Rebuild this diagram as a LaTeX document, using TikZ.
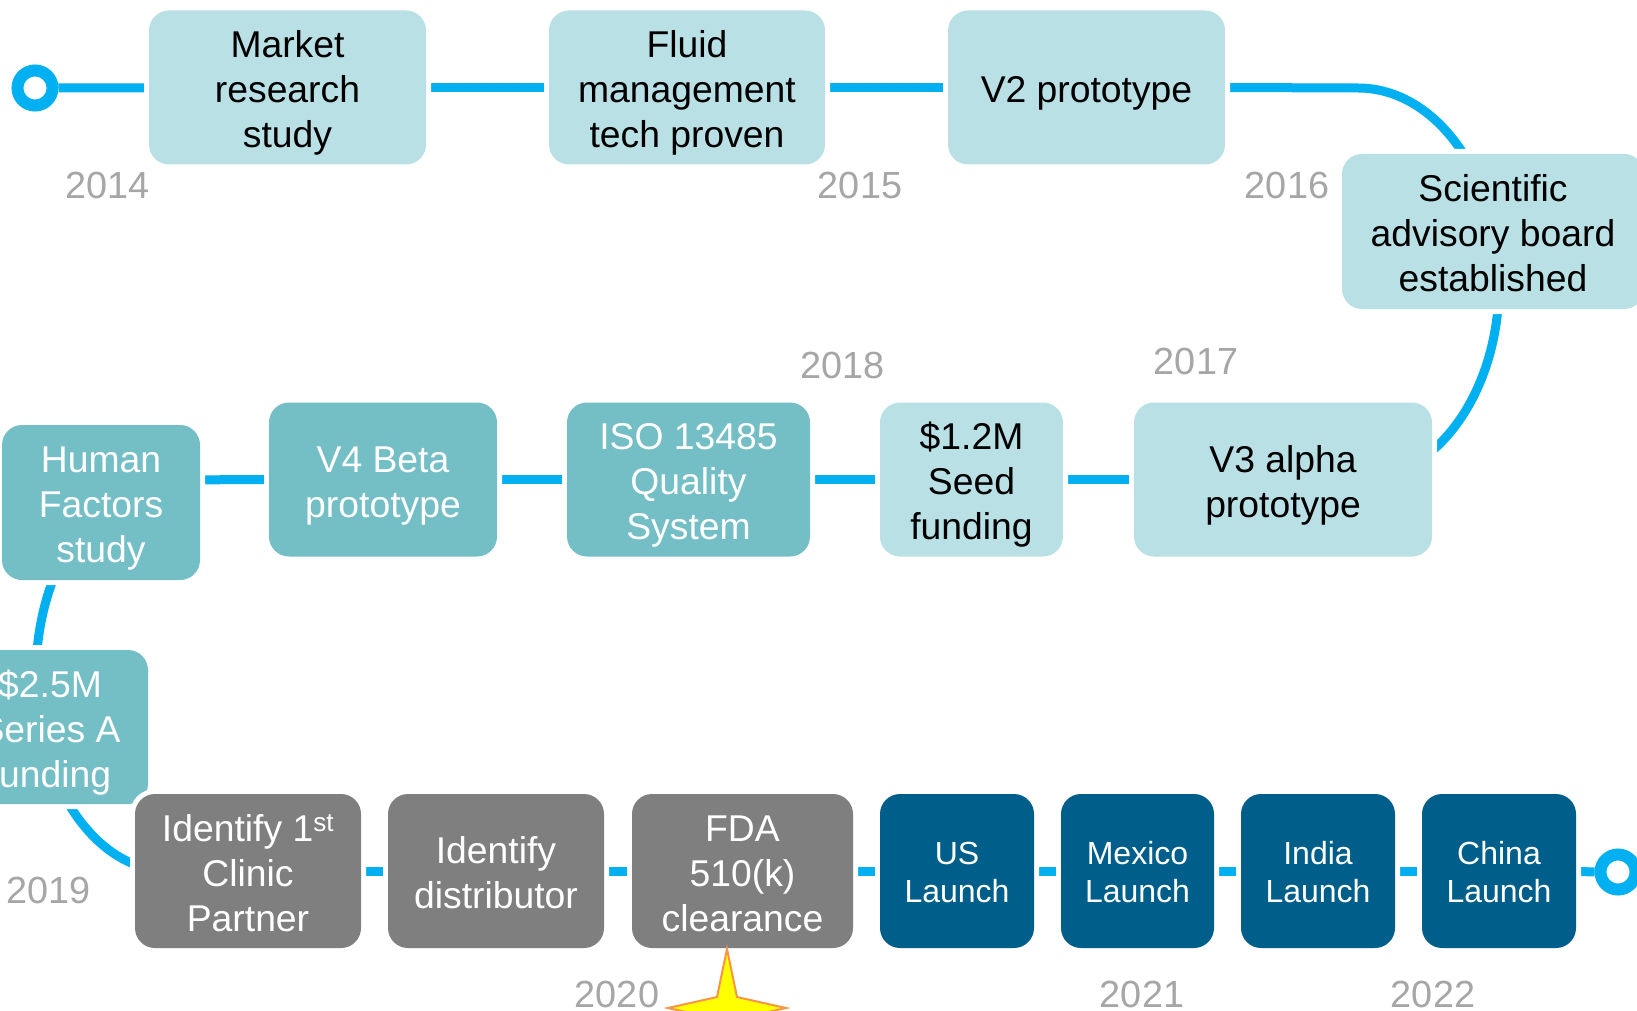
\documentclass[tikz,border=0pt]{standalone}
\usepackage{fontspec}
\setmainfont{Liberation Sans}
\usetikzlibrary{backgrounds}

\definecolor{lineblue}{HTML}{00B0F0}
\definecolor{palebox}{HTML}{B9E0E5}
\definecolor{tealbox}{HTML}{74BEC5}
\definecolor{greybox}{HTML}{7F7F7F}
\definecolor{navybox}{HTML}{005F8A}
\definecolor{yeargrey}{HTML}{A6A6A6}
\definecolor{staryellow}{HTML}{FFFF00}
\definecolor{starorange}{HTML}{F79646}

% struts that fix the height of the first and the depth of the last text line
\newcommand\tstrut{\rule{0pt}{40pt}}
\newcommand\sstrut{\rule{0pt}{35pt}}

\tikzset{
  box/.style={rounded corners=20pt, minimum height=154pt, inner sep=0pt,
    align=center, font=\fontsize{37.3}{45}\selectfont,
    execute at end node={\rule[-10pt]{0pt}{10pt}},
    preaction={draw=white, line width=10pt}},
  smallbox/.style={box, font=\fontsize{32}{37.5}\selectfont,
    execute at end node={\rule[-8pt]{0pt}{8pt}}},
  pale/.style={fill=palebox, text=black},
  teal/.style={fill=tealbox, text=white},
  grey/.style={fill=greybox, text=white},
  navy/.style={fill=navybox, text=white},
  conn/.style={draw=lineblue, line width=9pt},
  ring/.style={circle, draw=lineblue, line width=12pt, fill=white,
    minimum size=35pt, inner sep=0pt},
  year/.style={text=yeargrey, font=\fontsize{37.8}{43}\selectfont,
    anchor=base, inner sep=0pt},
  milestar/.style={fill=staryellow, draw=starorange, line width=2pt,
    line join=miter},
}

\begin{document}
\begin{tikzpicture}[x=1pt, y=-1pt]
\useasboundingbox (0,0) rectangle (1637,1011);
\clip (0,0) rectangle (1637,1011);

% ---------- first row ----------
\node[ring] (start) at (35,88) {};
\node[box, pale, minimum width=277pt] (mrs)   at (287.5,87.5)  {\tstrut Market\\research\\study};
\node[box, pale, minimum width=276pt] (fluid) at (687,87.5)    {\tstrut Fluid\\management\\tech proven};
\node[box, pale, minimum width=277pt] (v2)    at (1086.5,87.5) {\tstrut V2 prototype};
\node[box, pale, minimum width=302pt, minimum height=155pt] (sab) at (1493,231.5)
  {\tstrut Scientific\\advisory board\\established};

% ---------- second row ----------
\node[box, pale, minimum width=298pt] (v3)   at (1283,479.5)  {\tstrut V3 alpha\\prototype};
\node[box, pale, minimum width=183pt] (seed) at (971.5,479.5) {\tstrut\$1.2M\\Seed\\funding};
\node[box, teal, minimum width=243pt] (iso)  at (688.5,479.5) {\tstrut ISO 13485\\Quality\\System};
\node[box, teal, minimum width=228pt] (v4)   at (383,479.5)   {\tstrut V4 Beta\\prototype};
\node[box, teal, minimum width=198pt, minimum height=155pt] (hf) at (101,502.5)
  {\tstrut Human\\Factors\\study};
\node[box, teal, minimum width=196pt] (sa)   at (50,727)      {\tstrut\$2.5M\\Series A\\funding};

% ---------- third row ----------
\node[box, grey, minimum width=226pt] (id1)  at (248,871)    {\tstrut Identify 1\textsuperscript{st}\\Clinic\\Partner};
\node[box, grey, minimum width=216pt] (dist) at (496,871)    {\tstrut Identify\\distributor};
\node[box, grey, minimum width=221pt] (fda)  at (742.5,871)  {\tstrut FDA\\510(k)\\clearance};
\node[smallbox, navy, minimum width=154pt] (us)  at (957,871)    {\sstrut US\\Launch};
\node[smallbox, navy, minimum width=153pt] (mex) at (1137.5,871) {\sstrut Mexico\\Launch};
\node[smallbox, navy, minimum width=154pt] (ind) at (1318,871)   {\sstrut India\\Launch};
\node[smallbox, navy, minimum width=154pt] (chn) at (1499,871)   {\sstrut China\\Launch};
\node[ring] (finish) at (1618,872) {};

% ---------- year labels ----------
\node[year] (y2014) at (107.5,198) {2014};
\node[year] (y2015) at (860,198)   {2015};
\node[year] (y2016) at (1287,198)  {2016};
\node[year] (y2017) at (1196,374)  {2017};
\node[year] (y2018) at (842.5,378) {2018};
\node[year] (y2019) at (48.5,903)  {2019};
\node[year] (y2020) at (617,1007)  {2020};
\node[year] (y2021) at (1142,1007) {2021};
\node[year] (y2022) at (1433,1007) {2022};

% ---------- milestone star ----------
\coordinate (sc) at (727,1008);
\draw[milestar] ([shift={(0,-59)}]sc) -- ([shift={(10,-11)}]sc) -- ([shift={(59,0)}]sc)
  -- ([shift={(10,11)}]sc) -- ([shift={(0,59)}]sc) -- ([shift={(-10,11)}]sc)
  -- ([shift={(-59,0)}]sc) -- ([shift={(-10,-11)}]sc) -- cycle;

% ---------- timeline connectors (behind the boxes) ----------
\coordinate (rightbend) at (1358,88);
\coordinate (leftbend) at (169,480);
\begin{pgfonlayer}{background}
  \clip (0,0) rectangle (1637,1011);
  \fill[white] (0,0) rectangle (1637,1011);
  \draw[conn] (start) -- (mrs);
  \draw[conn] (mrs) -- (fluid);
  \draw[conn] (fluid) -- (v2);
  \draw[conn] (v2.east) -- (rightbend)
    arc[start angle=-90, end angle=90, x radius=141, y radius=196];
  \draw[conn] (v3) -- (seed);
  \draw[conn] (seed) -- (iso);
  \draw[conn] (iso) -- (v4);
  \draw[conn] (v4.west) -- (leftbend)
    arc[start angle=270, end angle=90, x radius=133, y radius=195.5] -- (id1);
  \draw[conn] (id1) -- (dist);
  \draw[conn] (dist) -- (fda);
  \draw[conn] (fda) -- (us);
  \draw[conn] (us) -- (mex);
  \draw[conn] (mex) -- (ind);
  \draw[conn] (ind) -- (chn);
  \draw[conn] (chn) -- (finish);
\end{pgfonlayer}
\end{tikzpicture}
\end{document}
